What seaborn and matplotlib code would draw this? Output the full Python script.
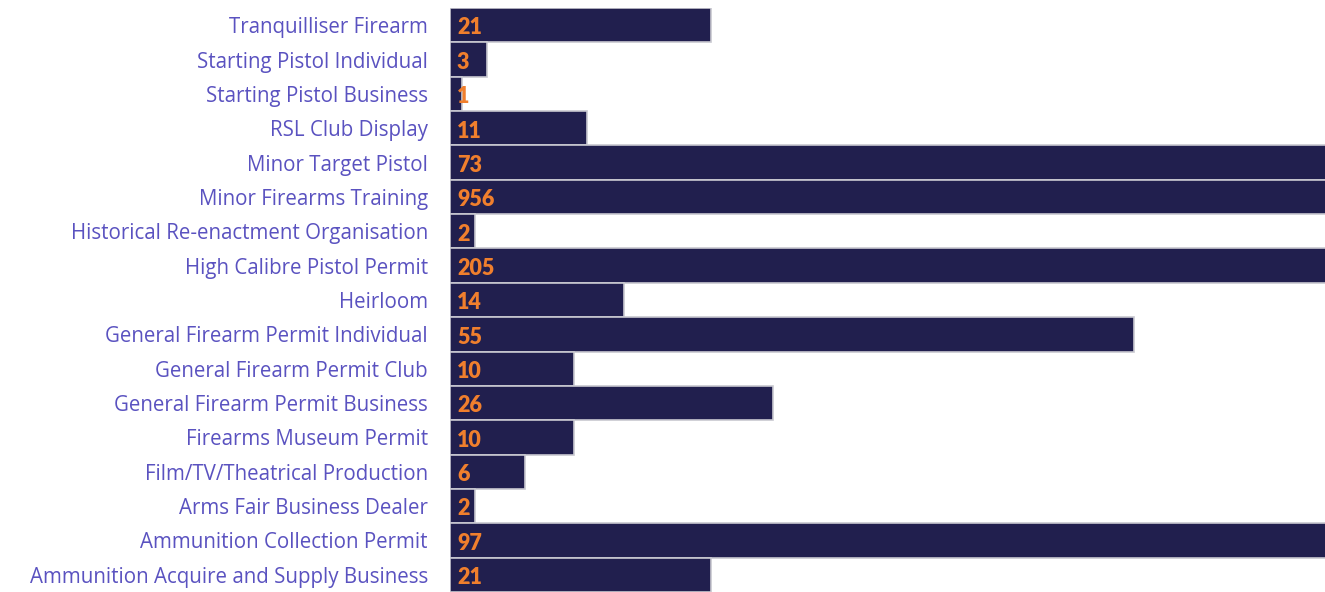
import matplotlib
matplotlib.use("Agg")
import matplotlib.pyplot as plt
import seaborn as sns
import pandas as pd

# permit categories, top to bottom
categories = [
    "Tranquilliser Firearm",
    "Starting Pistol Individual",
    "Starting Pistol Business",
    "RSL Club Display",
    "Minor Target Pistol",
    "Minor Firearms Training",
    "Historical Re-enactment Organisation",
    "High Calibre Pistol Permit",
    "Heirloom",
    "General Firearm Permit Individual",
    "General Firearm Permit Club",
    "General Firearm Permit Business",
    "Firearms Museum Permit",
    "Film/TV/Theatrical Production",
    "Arms Fair Business Dealer",
    "Ammunition Collection Permit",
    "Ammunition Acquire and Supply Business",
]
counts = [21, 3, 1, 11, 73, 956, 2, 205, 14, 55, 10, 26, 10, 6, 2, 97, 21]

df = pd.DataFrame({"permit": categories, "count": counts})

sns.set_style("white")
plt.rcParams["font.family"] = ["Open Sans", "DejaVu Sans"]

fig = plt.figure(figsize=(13.25, 5.92), dpi=100)
ax = fig.add_axes([450 / 1325, 0.0, 875 / 1325, 584 / 592])

sns.barplot(data=df, x="count", y="permit", orient="h", color="#211f4e",
            width=1.0, edgecolor="#c8c8d0", linewidth=1.2, saturation=1, ax=ax)

# axis is cut at ~70, so the big counts run off the right edge
ax.set_xlim(0, 70.4)
ax.set_ylim(len(categories) - 0.5, -0.5)

for i, v in enumerate(counts):
    ax.annotate(str(v), xy=(0, i), xytext=(5, -2), textcoords="offset points",
                ha="left", va="center", color="#f07f2d", fontsize=15.5,
                fontweight="heavy", family=["Lato", "DejaVu Sans"])

ax.set_xlabel("")
ax.set_ylabel("")
ax.set_xticks([])
ax.tick_params(axis="y", length=0, pad=16, labelsize=14.8, labelcolor="#5a52c0")
sns.despine(ax=ax, left=True, bottom=True)

fig.savefig("out.png", dpi=100)
